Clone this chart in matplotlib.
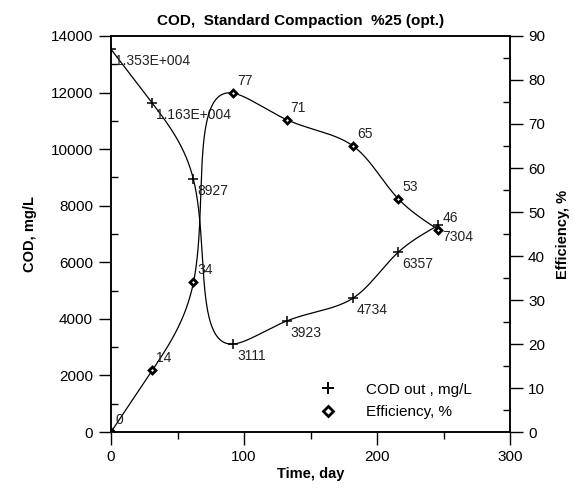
import numpy as np
import matplotlib.pyplot as plt
from matplotlib.lines import Line2D

plt.rcParams['font.family'] = ['Liberation Sans', 'DejaVu Sans']

# Data
days = [0, 31, 62, 92, 132, 182, 216, 246]
cod_out = [13530, 11630, 8927, 3111, 3923, 4734, 6357, 7304]
cod_labels = ['1.353E+004', '1.163E+004', '8927', '3111', '3923', '4734', '6357', '7304']
efficiency = [0, 14, 34, 77, 71, 65, 53, 46]
eff_labels = ['0', '14', '34', '77', '71', '65', '53', '46']


def spline_coeffs(t, v):
    # second derivatives for a natural cubic spline
    k = len(t)
    h = np.diff(t)
    A = np.zeros((k, k))
    b = np.zeros(k)
    A[0, 0] = A[-1, -1] = 1
    for i in range(1, k - 1):
        A[i, i - 1] = h[i - 1]
        A[i, i] = 2 * (h[i - 1] + h[i])
        A[i, i + 1] = h[i]
        b[i] = 6 * ((v[i + 1] - v[i]) / h[i] - (v[i] - v[i - 1]) / h[i - 1])
    return np.linalg.solve(A, b)


def eval_spline(t, v, M, ts):
    idx = np.clip(np.searchsorted(t, ts) - 1, 0, len(t) - 2)
    t0, t1 = t[idx], t[idx + 1]
    hh = t1 - t0
    a, c = t1 - ts, ts - t0
    return (M[idx] * a**3 + M[idx + 1] * c**3) / (6 * hh) \
        + (v[idx] / hh - M[idx] * hh / 6) * a + (v[idx + 1] / hh - M[idx + 1] * hh / 6) * c


def smooth_curve(x, y, xspan, yspan, n=600):
    # parametric spline through the points, chord length measured on screen
    x = np.asarray(x, float)
    y = np.asarray(y, float)
    X = x / xspan * 399
    Y = y / yspan * 396
    t = np.concatenate([[0], np.cumsum(np.hypot(np.diff(X), np.diff(Y)))])
    ts = np.linspace(0, t[-1], n)
    xs = eval_spline(t, x, spline_coeffs(t, x), ts)
    ys = eval_spline(t, y, spline_coeffs(t, y), ts)
    return xs, ys


fig = plt.figure(figsize=(5.73, 4.9), dpi=100)
ax = fig.add_axes([111 / 573, 1 - 432 / 490, (510 - 111) / 573, (432 - 36) / 490])
ax2 = ax.twinx()

xs, ys = smooth_curve(days, cod_out, 300, 14000)
ax.plot(xs, ys, color='black', lw=0.9)
ax.plot(days, cod_out, ls='none', marker='+', ms=7, mew=1.1, color='black')

xs2, ys2 = smooth_curve(days, efficiency, 300, 90)
ax2.plot(xs2, ys2, color='black', lw=0.9)
ax2.plot(days, efficiency, ls='none', marker='D', ms=3.5, mew=2, mfc='white', mec='black')

for x, y, s in zip(days, cod_out, cod_labels):
    ax.annotate(s, (x, y), xytext=(4, -5), textcoords='offset pixels', fontsize=10,
                ha='left', va='top', color='#222222')
for x, y, s in zip(days, efficiency, eff_labels):
    ax2.annotate(s, (x, y), xytext=(4, 5), textcoords='offset pixels', fontsize=10,
                 ha='left', va='bottom', color='#222222')

ax.set_xlim(0, 300)
ax.set_ylim(0, 14000)
ax2.set_ylim(0, 90)
ax.set_xticks([0, 100, 200, 300])
ax.set_xticks([50, 150, 250], minor=True)
ax.set_yticks(np.arange(0, 14001, 2000))
ax.set_yticks(np.arange(1000, 14000, 2000), minor=True)
ax2.set_yticks(np.arange(0, 91, 10))
ax2.set_yticks(np.arange(5, 90, 10), minor=True)

ax.tick_params(axis='both', which='major', direction='out', length=9, width=1, labelsize=11, pad=4)
ax.tick_params(axis='y', which='minor', direction='in', length=5, width=1)
ax.tick_params(axis='x', which='minor', direction='out', length=5, width=1)
ax2.tick_params(axis='y', which='major', direction='out', length=9, width=1, labelsize=11, pad=4)
ax2.tick_params(axis='y', which='minor', direction='in', length=5, width=1)
for a in (ax, ax2):
    for sp in a.spines.values():
        sp.set_linewidth(1.1)

ax.set_xlabel('Time, day', fontsize=10.5, fontweight='bold', labelpad=2)
ax.set_ylabel('COD, mg/L', fontsize=10.5, fontweight='bold', labelpad=10)
ax2.set_ylabel('Efficiency, %', fontsize=10.5, fontweight='bold', labelpad=8)
ax.set_title('COD,  Standard Compaction  %25 (opt.)', fontsize=11, fontweight='bold',
             x=0.475, pad=8)

handles = [Line2D([], [], ls='none', marker='+', ms=9, mew=1.4, color='black'),
           Line2D([], [], ls='none', marker='D', ms=5.5, mew=2, mfc='white', mec='black')]
ax.legend(handles, ['COD out , mg/L', 'Efficiency, %'], loc='upper left',
          bbox_to_anchor=(0.49, 0.14), frameon=False, fontsize=11,
          handlelength=2, handletextpad=1.5, labelspacing=0.55, borderaxespad=0)

fig.savefig('out.png', dpi=100)
